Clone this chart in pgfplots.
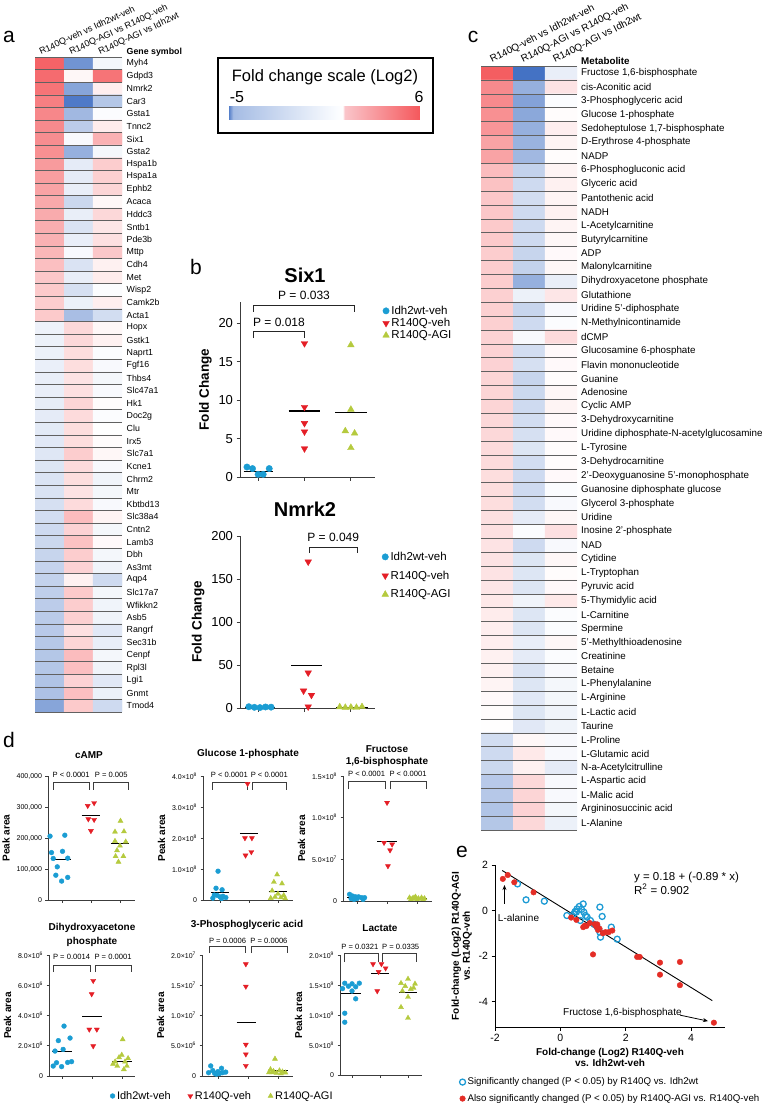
\documentclass[border=0pt]{standalone}
\usepackage{fontspec}
\setmainfont{Liberation Sans}
\usepackage{pgfplots}
\pgfplotsset{compat=1.18}
\usetikzlibrary{arrows.meta}
\definecolor{cblue}{RGB}{27,157,211}
\definecolor{cred}{RGB}{228,30,38}
\definecolor{cgreen}{RGB}{181,202,62}
\definecolor{axc}{RGB}{60,60,60}
\definecolor{ered}{RGB}{228,45,38}
\definecolor{eblue}{RGB}{30,155,212}
\tikzset{ptxt/.style={font=\fontsize{7.6}{9}\selectfont, inner sep=0pt}}
\pgfplotsset{
  colormap={fcbar}{rgb255(0cm)=(68,114,196); rgb255(0.3cm)=(165,188,228); rgb255(6.2cm)=(250,252,255); rgb255(6.6cm)=(255,255,255); rgb255(6.65cm)=(250,198,203); rgb255(11cm)=(245,88,92)},
  colormap={fc}{rgb255(0cm)=(68,114,196); rgb255(5cm)=(255,255,255); rgb255(11cm)=(244,88,92)},
  heat/.style={scale only axis, anchor=south west, enlargelimits=false, xmin=-0.5, xmax=2.5, y dir=reverse,
    colormap name=fc, point meta min=-5, point meta max=6, axis line style={draw=none}, xtick=\empty,
    tick style={draw=none}, major tick length=0pt, minor tick length=0pt, yticklabel pos=right,
    yticklabel style={anchor=west, inner sep=0pt}, axis on top, xminorgrids=true, yminorgrids=true,
    minor xtick={-0.5,0.5,1.5,2.5}, minor grid style={black!62, line width=0.55pt}},
  dot/.style={scale only axis, anchor=south west, axis lines=left, axis line style={-, draw=axc, line width=1pt},
    tick style={axc, line width=0.9pt}, tick align=outside, major tick length=3.5pt, xtick={1,2,3}, xticklabels={},
    clip=false, enlargelimits=false, /pgf/number format/assume math mode=true, legend cell align=left,
    legend image code/.code={\draw[##1] plot coordinates {(0pt,0pt)};},
    legend style={draw=none, fill=none, inner sep=0pt}},
  dd/.style={dot, axis line style={-, draw=axc, line width=0.8pt}, tick style={axc, line width=0.7pt},
    major tick length=2.5pt, yticklabel style={font=\fontsize{7}{8}\selectfont}, ylabel={Peak area},
    ylabel style={font=\bfseries\fontsize{10}{12}\selectfont}, scaled y ticks=false, ymin=0},
  mwt/.style={only marks, mark=*, color=cblue, mark size=#1},
  mveh/.style={only marks, mark=triangle*, color=cred, mark size=#1, mark options={rotate=180}},
  magi/.style={only marks, mark=triangle*, color=cgreen, mark size=#1},
  meanl/.style={black, line width=0.9pt},
  brk/.style={axc, line width=0.7pt},
}
\begin{document}
\begin{tikzpicture}
\path[use as bounding box] (0,0) rectangle (763pt,-1105pt);
% panel letters
\node[font=\fontsize{21}{24}\selectfont] at (9pt,-37pt) {a};
\node[font=\fontsize{21}{24}\selectfont] at (196pt,-267pt) {b};
\node[font=\fontsize{21}{24}\selectfont] at (473pt,-37pt) {c};
\node[font=\fontsize{21}{24}\selectfont] at (9pt,-740pt) {d};
\node[font=\fontsize{21}{24}\selectfont] at (462pt,-852pt) {e};
% ---------------- panel a headers
\node[rotate=25, anchor=base west, inner sep=0pt, font=\fontsize{9}{10}\selectfont] at (41pt,-55pt) {R140Q-veh vs Idh2wt-veh};
\node[rotate=25, anchor=base west, inner sep=0pt, font=\fontsize{9}{10}\selectfont] at (71pt,-55pt) {R140Q-AGI vs R140Q-veh};
\node[rotate=25, anchor=base west, inner sep=0pt, font=\fontsize{9}{10}\selectfont] at (100pt,-55pt) {R140Q-AGI vs Idh2wt};
\node[anchor=west, inner sep=0pt, font=\bfseries\fontsize{8.8}{10}\selectfont] at (126.5pt,-52pt) {Gene symbol};
\begin{axis}[heat, at={(35pt,-712pt)}, width=87pt, height=655pt, ymin=-0.5, ymax=51.5,
  minor ytick={-0.5,0.5,...,51.5}, ytick={0,...,51},
  yticklabels={Myh4,Gdpd3,Nmrk2,Car3,Gsta1,Tnnc2,Six1,Gsta2,Hspa1b,Hspa1a,Ephb2,Acaca,Hddc3,Sntb1,Pde3b,Mttp,Cdh4,Met,Wisp2,Camk2b,Acta1,Hopx,Gstk1,Naprt1,Fgf16,Thbs4,Slc47a1,Hk1,Doc2g,Clu,Irx5,Slc7a1,Kcne1,Chrm2,Mtr,Kbtbd13,Slc38a4,Cntn2,Lamb3,Dbh,As3mt,Aqp4,Slc17a7,Wfikkn2,Asb5,Rangrf,Sec31b,Cenpf,Rpl3l,Lgi1,Gnmt,Tmod4},
  yticklabel style={font=\fontsize{8.8}{10}\selectfont, xshift=4.5pt}]
\addplot[matrix plot*, mesh/cols=3, point meta=explicit] table[meta=c, row sep=\\] {
x y c\\
0 0 5.6\\ 1 0 -3.8\\ 2 0 -0.3\\
0 1 5.3\\ 1 1 0.3\\ 2 1 5.0\\
0 2 5.0\\ 1 2 -3.2\\ 2 2 0.6\\
0 3 4.6\\ 1 3 -4.7\\ 2 3 -2.0\\
0 4 4.3\\ 1 4 -2.5\\ 2 4 -0.1\\
0 5 4.2\\ 1 5 -1.8\\ 2 5 0.7\\
0 6 4.1\\ 1 6 -0.2\\ 2 6 2.8\\
0 7 4.0\\ 1 7 -2.8\\ 2 7 -0.3\\
0 8 3.6\\ 1 8 -0.7\\ 2 8 1.8\\
0 9 3.5\\ 1 9 -0.7\\ 2 9 1.7\\
0 10 3.3\\ 1 10 -0.6\\ 2 10 1.5\\
0 11 3.1\\ 1 11 -1.4\\ 2 11 0.3\\
0 12 3.0\\ 1 12 -0.6\\ 2 12 1.4\\
0 13 2.9\\ 1 13 -1.0\\ 2 13 0.9\\
0 14 2.8\\ 1 14 -0.6\\ 2 14 1.1\\
0 15 2.6\\ 1 15 -0.2\\ 2 15 2.0\\
0 16 2.3\\ 1 16 -1.0\\ 2 16 0.5\\
0 17 2.0\\ 1 17 -0.6\\ 2 17 0.7\\
0 18 1.9\\ 1 18 -1.1\\ 2 18 -0.1\\
0 19 1.8\\ 1 19 -0.5\\ 2 19 0.6\\
0 20 1.9\\ 1 20 -2.3\\ 2 20 -1.2\\
0 21 -0.45\\ 1 21 1.4\\ 2 21 0.3\\
0 22 -0.5\\ 1 22 1.4\\ 2 22 0.5\\
0 23 -0.5\\ 1 23 1.2\\ 2 23 -0.1\\
0 24 -0.55\\ 1 24 1.2\\ 2 24 -0.2\\
0 25 -0.6\\ 1 25 1.0\\ 2 25 -0.3\\
0 26 -0.6\\ 1 26 1.1\\ 2 26 -0.2\\
0 27 -0.65\\ 1 27 1.5\\ 2 27 0.1\\
0 28 -0.7\\ 1 28 1.3\\ 2 28 -0.1\\
0 29 -0.75\\ 1 29 1.2\\ 2 29 0.0\\
0 30 -0.8\\ 1 30 1.2\\ 2 30 0.1\\
0 31 -0.85\\ 1 31 1.8\\ 2 31 0.3\\
0 32 -0.9\\ 1 32 1.3\\ 2 32 -0.2\\
0 33 -0.95\\ 1 33 1.2\\ 2 33 -0.4\\
0 34 -1.0\\ 1 34 1.0\\ 2 34 -0.3\\
0 35 -1.1\\ 1 35 1.3\\ 2 35 -0.2\\
0 36 -1.2\\ 1 36 2.4\\ 2 36 0.4\\
0 37 -1.3\\ 1 37 1.6\\ 2 37 -0.3\\
0 38 -1.4\\ 1 38 2.2\\ 2 38 0.2\\
0 39 -1.5\\ 1 39 1.8\\ 2 39 -0.3\\
0 40 -1.55\\ 1 40 1.6\\ 2 40 -0.4\\
0 41 -1.6\\ 1 41 0.5\\ 2 41 -1.3\\
0 42 -1.7\\ 1 42 1.9\\ 2 42 -0.3\\
0 43 -1.8\\ 1 43 1.8\\ 2 43 -0.4\\
0 44 -1.85\\ 1 44 1.7\\ 2 44 -0.4\\
0 45 -1.9\\ 1 45 1.1\\ 2 45 -0.8\\
0 46 -1.95\\ 1 46 1.5\\ 2 46 -0.6\\
0 47 -2.0\\ 1 47 2.4\\ 2 47 -0.3\\
0 48 -2.0\\ 1 48 2.3\\ 2 48 -0.4\\
0 49 -2.1\\ 1 49 1.6\\ 2 49 -0.8\\
0 50 -2.2\\ 1 50 2.3\\ 2 50 -0.5\\
0 51 -3.2\\ 1 51 1.9\\ 2 51 -1.3\\
};
\end{axis}
% ---------------- colour scale box
\draw[line width=1.2pt] (218pt,-58pt) rectangle (433pt,-133pt);
\node[font=\fontsize{16.5}{19}\selectfont] at (325pt,-77pt) {Fold change scale (Log2)};
\node[font=\fontsize{16}{18}\selectfont] at (237pt,-97pt) {-5};
\node[font=\fontsize{16}{18}\selectfont] at (419pt,-97pt) {6};
\begin{axis}[at={(228pt,-120pt)}, anchor=south west, scale only axis, width=192pt, height=13pt, hide axis,
  colormap name=fcbar, point meta min=-5, point meta max=6, colorbar horizontal,
  colorbar style={at={(0,0)}, anchor=south west, xtick=\empty, axis line style={draw=none}, height=13pt}]
\addplot[draw=none] coordinates {(0,0)};
\end{axis}
% ---------------- panel c
\node[rotate=27, anchor=base west, inner sep=0pt, font=\fontsize{10}{11}\selectfont] at (492pt,-63pt) {R140Q-veh vs Idh2wt-veh};
\node[rotate=27, anchor=base west, inner sep=0pt, font=\fontsize{10}{11}\selectfont] at (523pt,-63pt) {R140Q-AGI vs R140Q-veh};
\node[rotate=27, anchor=base west, inner sep=0pt, font=\fontsize{10}{11}\selectfont] at (555pt,-63pt) {R140Q-AGI vs Idh2wt};
\node[anchor=west, inner sep=0pt, font=\bfseries\fontsize{9.8}{11}\selectfont] at (581pt,-61pt) {Metabolite};
\begin{axis}[heat, at={(481pt,-830pt)}, width=96pt, height=764pt, ymin=-0.5, ymax=54.5,
  minor ytick={-0.5,0.5,...,54.5}, ytick={0,...,54},
  yticklabels={{Fructose 1,6-bisphosphate},cis-Aconitic acid,3-Phosphoglyceric acid,Glucose 1-phosphate,{Sedoheptulose 1,7-bisphosphate},D-Erythrose 4-phosphate,NADP,6-Phosphogluconic acid,Glyceric acid,Pantothenic acid,NADH,L-Acetylcarnitine,Butyrylcarnitine,ADP,Malonylcarnitine,Dihydroxyacetone phosphate,Glutathione,Uridine 5'-diphosphate,N-Methylnicontinamide,dCMP,Glucosamine 6-phosphate,Flavin mononucleotide,Guanine,Adenosine,Cyclic AMP,3-Dehydroxycarnitine,Uridine diphosphate-N-acetylglucosamine,L-Tyrosine,3-Dehydrocarnitine,2'-Deoxyguanosine 5'-monophosphate,Guanosine diphosphate glucose,Glycerol 3-phosphate,Uridine,Inosine 2'-phosphate,NAD,Cytidine,L-Tryptophan,Pyruvic acid,5-Thymidylic acid,L-Carnitine,Spermine,5'-Methylthioadenosine,Creatinine,Betaine,L-Phenylalanine,L-Arginine,L-Lactic acid,Taurine,L-Proline,L-Glutamic acid,N-a-Acetylcitrulline,L-Aspartic acid,L-Malic acid,Argininosuccinic acid,L-Alanine},
  yticklabel style={font=\fontsize{9.8}{11}\selectfont, xshift=4pt}]
\addplot[matrix plot*, mesh/cols=3, point meta=explicit] table[meta=c, row sep=\\] {
x y c\\
0 0 5.8\\ 1 0 -5.0\\ 2 0 -0.6\\
0 1 4.2\\ 1 1 -2.8\\ 2 1 1.0\\
0 2 4.2\\ 1 2 -3.3\\ 2 2 -0.1\\
0 3 4.0\\ 1 3 -3.1\\ 2 3 0.1\\
0 4 3.8\\ 1 4 -2.8\\ 2 4 0.6\\
0 5 3.3\\ 1 5 -2.7\\ 2 5 0.4\\
0 6 3.3\\ 1 6 -2.5\\ 2 6 0.1\\
0 7 2.4\\ 1 7 -1.6\\ 2 7 0.4\\
0 8 2.2\\ 1 8 -1.3\\ 2 8 0.5\\
0 9 2.0\\ 1 9 -1.2\\ 2 9 0.4\\
0 10 2.0\\ 1 10 -1.3\\ 2 10 0.5\\
0 11 1.9\\ 1 11 -1.3\\ 2 11 0.4\\
0 12 1.9\\ 1 12 -1.3\\ 2 12 0.3\\
0 13 1.8\\ 1 13 -1.5\\ 2 13 0.2\\
0 14 1.8\\ 1 14 -1.6\\ 2 14 0.3\\
0 15 1.8\\ 1 15 -2.8\\ 2 15 -0.6\\
0 16 1.7\\ 1 16 -0.5\\ 2 16 0.9\\
0 17 1.7\\ 1 17 -1.5\\ 2 17 -0.2\\
0 18 1.7\\ 1 18 -1.3\\ 2 18 -0.1\\
0 19 1.6\\ 1 19 -0.2\\ 2 19 1.3\\
0 20 1.6\\ 1 20 -1.2\\ 2 20 0.2\\
0 21 1.6\\ 1 21 -1.1\\ 2 21 0.2\\
0 22 1.5\\ 1 22 -1.5\\ 2 22 0.1\\
0 23 1.5\\ 1 23 -1.4\\ 2 23 0.3\\
0 24 1.5\\ 1 24 -1.3\\ 2 24 0.4\\
0 25 1.4\\ 1 25 -1.2\\ 2 25 0.2\\
0 26 1.4\\ 1 26 -1.1\\ 2 26 0.2\\
0 27 1.3\\ 1 27 -0.9\\ 2 27 0.1\\
0 28 1.3\\ 1 28 -1.2\\ 2 28 0.1\\
0 29 1.2\\ 1 29 -1.3\\ 2 29 0.2\\
0 30 1.2\\ 1 30 -1.3\\ 2 30 -0.1\\
0 31 1.2\\ 1 31 -1.2\\ 2 31 -0.2\\
0 32 1.1\\ 1 32 -0.7\\ 2 32 0.3\\
0 33 1.1\\ 1 33 -0.1\\ 2 33 1.1\\
0 34 1.0\\ 1 34 -1.3\\ 2 34 -0.2\\
0 35 1.0\\ 1 35 -0.9\\ 2 35 0.3\\
0 36 1.0\\ 1 36 -0.9\\ 2 36 0.1\\
0 37 0.9\\ 1 37 -0.9\\ 2 37 0.2\\
0 38 0.8\\ 1 38 -0.4\\ 2 38 0.8\\
0 39 0.7\\ 1 39 -0.9\\ 2 39 -0.1\\
0 40 0.6\\ 1 40 -0.9\\ 2 40 -0.1\\
0 41 0.6\\ 1 41 -0.6\\ 2 41 0.3\\
0 42 0.5\\ 1 42 -0.7\\ 2 42 -0.1\\
0 43 0.5\\ 1 43 -1.0\\ 2 43 -0.2\\
0 44 0.4\\ 1 44 -0.9\\ 2 44 -0.3\\
0 45 0.2\\ 1 45 -0.8\\ 2 45 -0.3\\
0 46 0.1\\ 1 46 -0.9\\ 2 46 -0.4\\
0 47 0.05\\ 1 47 -0.8\\ 2 47 -0.4\\
0 48 -1.2\\ 1 48 0.3\\ 2 48 -0.2\\
0 49 -1.3\\ 1 49 0.8\\ 2 49 -0.2\\
0 50 -1.4\\ 1 50 0.5\\ 2 50 -0.7\\
0 51 -1.9\\ 1 51 1.4\\ 2 51 -0.2\\
0 52 -1.95\\ 1 52 1.5\\ 2 52 -0.2\\
0 53 -2.1\\ 1 53 1.6\\ 2 53 -0.3\\
0 54 -2.0\\ 1 54 1.4\\ 2 54 -0.5\\
};
\end{axis}
% ---------------- panel b
\node[font=\bfseries\fontsize{20}{23}\selectfont] at (305pt,-275pt) {Six1};
\begin{axis}[dot, at={(240pt,-477pt)}, width=135pt, height=175pt, xmin=0.61, xmax=3.52, ymin=0, ymax=22.8,
  ytick={0,5,10,15,20}, yticklabel style={font=\fontsize{13}{15}\selectfont},
  ylabel={Fold Change}, ylabel style={font=\bfseries\fontsize{13.5}{16}\selectfont},
  legend style={at={(axis description cs:1.056,0.99)}, anchor=north west, font=\fontsize{11.5}{13}\selectfont, row sep=-1.5pt}]
\addplot[mwt=3.2pt] coordinates {(0.76,1.3) (0.88,1.1) (1.0,0.35) (1.11,0.35) (1.24,1.1)};
\addplot[mveh=3.8pt] coordinates {(2,17.4) (2,9.1) (2,7.0) (2,5.9) (2,3.7)};
\addplot[magi=3.8pt] coordinates {(3,17.2) (3,8.8) (2.88,6.0) (3.08,5.7) (3,3.8)};
\legend{Idh2wt-veh,R140Q-veh,R140Q-AGI}
\addplot[black, line width=1.1pt] coordinates {(0.69,0.74) (1.32,0.74)};
\addplot[black, line width=1.1pt] coordinates {(1.66,8.6) (2.34,8.6)};
\addplot[black, line width=1.1pt] coordinates {(2.66,8.35) (3.34,8.35)};
\addplot[black!85, line width=1pt] coordinates {(0.9,18.1) (0.9,18.9) (2.0,18.9) (2.0,18.1)};
\addplot[black!85, line width=1pt] coordinates {(0.9,21.5) (0.9,22.4) (3.08,22.4) (3.08,21.5)};
\node[font=\fontsize{12}{14}\selectfont] at (axis cs:1.45,20.1) {P = 0.018};
\node[font=\fontsize{12}{14}\selectfont] at (axis cs:1.99,23.6) {P = 0.033};
\end{axis}
\node[font=\bfseries\fontsize{20}{23}\selectfont] at (305pt,-509pt) {Nmrk2};
\begin{axis}[dot, at={(240pt,-708pt)}, width=135pt, height=172pt, xmin=0.61, xmax=3.52, ymin=0, ymax=200,
  ytick={0,50,100,150,200}, yticklabel style={font=\fontsize{13}{15}\selectfont},
  ylabel={Fold Change}, ylabel style={font=\bfseries\fontsize{13.5}{16}\selectfont},
  legend style={at={(axis description cs:1.05,0.92)}, anchor=north west, font=\fontsize{11.5}{13}\selectfont, row sep=5pt}]
\addplot[mwt=3.2pt] coordinates {(0.8,1.5) (0.92,0.8) (1.04,0.5) (1.16,1.2) (1.28,1.0)};
\addplot[mveh=3.8pt] coordinates {(2.08,170) (2.08,41) (1.98,20) (2.15,15) (2.08,1.5)};
\addplot[magi=3.8pt] coordinates {(2.76,1.2) (2.88,0.6) (3.0,0.8) (3.12,0.5) (3.24,1.4)};
\legend{Idh2wt-veh,R140Q-veh,R140Q-AGI}
\addplot[black, line width=1.1pt] coordinates {(0.72,1.0) (1.36,1.0)};
\addplot[black, line width=1.1pt] coordinates {(1.72,49.5) (2.38,49.5)};
\addplot[black, line width=1.1pt] coordinates {(2.68,0.9) (3.36,0.9)};
\addplot[black!85, line width=1pt] coordinates {(2.1,180) (2.1,187) (3.15,187) (3.15,180)};
\node[font=\fontsize{12}{14}\selectfont] at (axis cs:2.62,199) {P = 0.049};
\end{axis}
% ---------------- panel d, top row
\node[font=\bfseries\fontsize{10}{12}\selectfont] at (89pt,-755pt) {cAMP};
\node[font=\bfseries\fontsize{10}{12}\selectfont] at (248pt,-754pt) {Glucose 1-phosphate};
\node[font=\bfseries\fontsize{10}{12}\selectfont] at (387pt,-749pt) {Fructose};
\node[font=\bfseries\fontsize{10}{12}\selectfont] at (387pt,-762pt) {1,6-bisphosphate};
\begin{axis}[dd, at={(48pt,-900pt)}, width=87pt, height=124pt, xmin=0.52, xmax=3.52, ymax=400000,
  ytick={0,100000,200000,300000,400000}, yticklabels={0,{100,000},{200,000},{300,000},{400,000}}]
\addplot[mwt=2.4pt] coordinates {(0.59,206000) (1.1,209000) (0.64,153000) (1.02,157000) (0.7,134000) (1.2,135000) (0.84,107000) (0.79,80000) (1.2,73000) (0.99,61000)};
\addplot[mveh=2.9pt] coordinates {(1.89,304000) (2.11,313000) (1.91,261000) (2.11,259000) (2.0,223000)};
\addplot[magi=2.9pt] coordinates {(3.02,255000) (2.83,220000) (3.14,221000) (2.83,190000) (3.2,188000) (3.0,175000) (2.9,160000) (2.85,141000) (3.12,141000) (2.95,123000)};
\addplot[meanl] coordinates {(0.68,130000) (1.32,130000)};
\addplot[meanl] coordinates {(1.68,272000) (2.32,272000)};
\addplot[meanl] coordinates {(2.68,181000) (3.32,181000)};
\addplot[brk] coordinates {(0.72,355000) (0.72,380000) (1.93,380000) (1.93,355000)};
\addplot[brk] coordinates {(2.1,355000) (2.1,380000) (3.3,380000) (3.3,355000)};
\node[ptxt] at (axis cs:1.32,405000) {P < 0.0001};
\node[ptxt] at (axis cs:2.7,405000) {P = 0.005};
\end{axis}
\begin{axis}[dd, at={(203pt,-900pt)}, width=90pt, height=124pt, xmin=0.41, xmax=3.52, ymax=4,
  ytick={0,1,2,3,4}, yticklabels={0,{1.0×10\textsuperscript{8}},{2.0×10\textsuperscript{8}},{3.0×10\textsuperscript{8}},{4.0×10\textsuperscript{8}}}]
\addplot[mwt=2.4pt] coordinates {(0.93,0.93) (0.86,0.38) (1.07,0.33) (0.8,0.16) (0.9,0.15) (1.1,0.12) (1.0,0.1) (1.2,0.08) (0.75,0.06) (1.05,0.05)};
\addplot[mveh=2.9pt] coordinates {(1.95,3.75) (1.86,2.0) (2.1,2.0) (1.88,1.44) (2.08,1.55)};
\addplot[magi=2.9pt] coordinates {(2.97,0.82) (2.86,0.58) (3.14,0.53) (2.8,0.3) (3.0,0.2) (3.2,0.15) (2.9,0.1) (3.1,0.08) (2.75,0.06) (3.25,0.05)};
\addplot[meanl] coordinates {(0.68,0.24) (1.32,0.24)};
\addplot[meanl] coordinates {(1.68,2.15) (2.32,2.15)};
\addplot[meanl] coordinates {(2.68,0.29) (3.32,0.29)};
\addplot[brk] coordinates {(0.72,3.55) (0.72,3.81) (1.93,3.81) (1.93,3.55)};
\addplot[brk] coordinates {(2.1,3.55) (2.1,3.81) (3.3,3.81) (3.3,3.55)};
\node[ptxt] at (axis cs:1.32,4.05) {P < 0.0001};
\node[ptxt] at (axis cs:2.7,4.05) {P < 0.0001};
\end{axis}
\begin{axis}[dd, at={(343pt,-901pt)}, width=89pt, height=125pt, xmin=0.53, xmax=3.5, ymax=1.5,
  ytick={0,0.5,1,1.5}, yticklabels={0,{5.0×10\textsuperscript{7}},{1.0×10\textsuperscript{8}},{1.5×10\textsuperscript{8}}}]
\addplot[mwt=2.4pt] coordinates {(0.75,0.08) (0.85,0.06) (0.95,0.05) (1.05,0.05) (1.15,0.04) (1.25,0.04) (0.8,0.03) (1.0,0.03) (1.2,0.02) (0.9,0.02)};
\addplot[mveh=2.9pt] coordinates {(2.0,1.18) (1.9,0.7) (2.17,0.68) (2.1,0.61) (2.03,0.42)};
\addplot[magi=2.9pt] coordinates {(2.75,0.04) (2.85,0.03) (2.95,0.05) (3.05,0.03) (3.15,0.04) (3.25,0.03) (2.8,0.02) (3.0,0.02) (3.2,0.02) (2.9,0.04)};
\addplot[meanl] coordinates {(0.68,0.04) (1.32,0.04)};
\addplot[meanl] coordinates {(1.68,0.72) (2.32,0.72)};
\addplot[meanl] coordinates {(2.68,0.03) (3.32,0.03)};
\addplot[brk] coordinates {(0.72,1.34) (0.72,1.43) (1.93,1.43) (1.93,1.34)};
\addplot[brk] coordinates {(2.1,1.34) (2.1,1.43) (3.3,1.43) (3.3,1.34)};
\node[ptxt] at (axis cs:1.32,1.52) {P < 0.0001};
\node[ptxt] at (axis cs:2.7,1.52) {P < 0.0001};
\end{axis}
% ---------------- panel d, bottom row
\node[font=\bfseries\fontsize{10}{12}\selectfont] at (92pt,-928pt) {Dihydroxyacetone};
\node[font=\bfseries\fontsize{10}{12}\selectfont] at (92pt,-942pt) {phosphate};
\node[font=\bfseries\fontsize{10}{12}\selectfont] at (247pt,-925pt) {3-Phosphoglyceric acid};
\node[font=\bfseries\fontsize{10}{12}\selectfont] at (380pt,-928pt) {Lactate};
\begin{axis}[dd, at={(49pt,-1076pt)}, width=86pt, height=121pt, xmin=0.57, xmax=3.43, ymax=8,
  ytick={0,2,4,6,8}, yticklabels={0,{2.0×10\textsuperscript{6}},{4.0×10\textsuperscript{6}},{6.0×10\textsuperscript{6}},{8.0×10\textsuperscript{6}}}]
\addplot[mwt=2.4pt] coordinates {(1.07,3.3) (0.88,2.34) (1.27,2.51) (1.04,1.76) (0.77,1.65) (1.19,0.9) (0.82,0.88) (0.99,0.62) (1.32,0.95) (0.71,0.66)};
\addplot[mveh=2.9pt] coordinates {(2.04,6.3) (1.99,5.42) (1.91,3.08) (2.16,3.08) (2.04,1.98)};
\addplot[magi=2.9pt] coordinates {(3.02,2.42) (2.99,1.39) (2.77,0.95) (3.1,0.95) (2.84,0.66) (3.16,0.66) (3.06,0.44) (2.9,1.23) (2.7,0.8) (3.2,1.17)};
\addplot[meanl] coordinates {(0.68,1.61) (1.32,1.61)};
\addplot[meanl] coordinates {(1.68,3.96) (2.32,3.96)};
\addplot[meanl] coordinates {(2.68,0.99) (3.32,0.99)};
\addplot[brk] coordinates {(0.72,6.87) (0.72,7.33) (1.93,7.33) (1.93,6.87)};
\addplot[brk] coordinates {(2.1,6.87) (2.1,7.33) (3.3,7.33) (3.3,6.87)};
\node[ptxt] at (axis cs:1.32,7.85) {P = 0.0014};
\node[ptxt] at (axis cs:2.7,7.85) {P = 0.0001};
\end{axis}
\begin{axis}[dd, at={(202pt,-1076pt)}, width=91pt, height=121pt, xmin=0.47, xmax=3.5, ymax=20,
  ytick={0,5,10,15,20}, yticklabels={0,{5.0×10\textsuperscript{6}},{1.0×10\textsuperscript{7}},{1.5×10\textsuperscript{7}},{2.0×10\textsuperscript{7}}},
  legend columns=3,
  legend style={at={(axis description cs:-1.011,-0.165)}, anchor=west, font=\fontsize{11}{13}\selectfont,
    /tikz/every even column/.append style={column sep=15pt}}]
\addplot[mwt=2.4pt] coordinates {(0.76,1.67) (1.12,1.28) (0.83,0.9) (1.0,0.72) (1.16,0.55) (0.69,0.55) (0.89,0.45) (1.05,0.4) (1.26,0.65) (0.95,0.3)};
\addplot[mveh=2.9pt] coordinates {(1.93,18.5) (1.93,14.8) (1.93,5.2) (1.93,3.6) (1.93,1.7)};
\addplot[magi=2.9pt] coordinates {(2.9,2.83) (2.75,1.1) (3.05,0.9) (2.85,0.8) (3.15,0.7) (2.7,0.6) (3.25,0.55) (2.95,0.5) (3.1,0.4) (2.8,0.6)};
\legend{Idh2wt-veh,R140Q-veh,R140Q-AGI}
\addplot[meanl] coordinates {(0.68,0.83) (1.32,0.83)};
\addplot[meanl] coordinates {(1.62,8.8) (2.26,8.8)};
\addplot[meanl] coordinates {(2.68,0.9) (3.32,0.9)};
\addplot[brk] coordinates {(0.72,20.3) (0.72,21.5) (1.93,21.5) (1.93,20.3)};
\addplot[brk] coordinates {(2.1,20.3) (2.1,21.5) (3.3,21.5) (3.3,20.3)};
\node[ptxt] at (axis cs:1.32,22.4) {P = 0.0006};
\node[ptxt] at (axis cs:2.7,22.4) {P = 0.0006};
\end{axis}
\begin{axis}[dd, at={(340pt,-1075pt)}, width=82pt, height=120pt, xmin=0.57, xmax=3.5, ymax=2,
  ytick={0,0.5,1,1.5,2}, yticklabels={0,{5.0×10\textsuperscript{8}},{1.0×10\textsuperscript{9}},{1.5×10\textsuperscript{9}},{2.0×10\textsuperscript{9}}}]
\addplot[mwt=2.4pt] coordinates {(0.74,1.53) (1.0,1.52) (1.26,1.53) (0.87,1.48) (1.13,1.47) (0.66,1.44) (1.13,1.27) (0.74,1.03) (0.74,0.88) (1.0,1.4)};
\addplot[mveh=2.9pt] coordinates {(1.75,1.85) (2.05,1.85) (2.2,1.78) (1.95,1.72) (1.9,1.4)};
\addplot[magi=2.9pt] coordinates {(3.0,1.6) (2.75,1.53) (3.25,1.52) (2.9,1.48) (3.1,1.43) (2.8,1.4) (3.0,1.3) (2.75,1.13) (3.0,0.95) (3.2,1.45)};
\addplot[meanl] coordinates {(0.6,1.36) (1.32,1.36)};
\addplot[meanl] coordinates {(1.68,1.70) (2.32,1.70)};
\addplot[meanl] coordinates {(2.68,1.37) (3.32,1.37)};
\addplot[brk] coordinates {(0.72,1.88) (0.72,2.03) (1.93,2.03) (1.93,1.88)};
\addplot[brk] coordinates {(2.1,1.88) (2.1,2.03) (3.3,2.03) (3.3,1.88)};
\node[ptxt] at (axis cs:1.28,2.14) {P = 0.0321};
\node[ptxt] at (axis cs:2.74,2.14) {P = 0.0335};
\end{axis}
% ---------------- panel e
\begin{axis}[at={(495pt,-1027pt)}, anchor=south west, scale only axis, width=230pt, height=162pt,
  xmin=-2, xmax=5.04, ymin=-5.12, ymax=2, axis lines=left, axis line style={-, black, line width=0.9pt},
  tick style={black, line width=0.8pt}, tick align=outside, major tick length=3.5pt,
  xtick={-2,0,2,4}, ytick={-4,-2,0,2}, tick label style={font=\fontsize{10.5}{12}\selectfont},
  /pgf/number format/assume math mode=true, clip=false,
  xlabel={Fold-change (Log2) R140Q-veh\\vs. Idh2wt-veh}, xlabel style={font=\bfseries\fontsize{10}{11}\selectfont, align=center},
  ylabel={Fold-change (Log2) R140Q-AGI\\vs. R140Q-veh}, ylabel style={font=\bfseries\fontsize{10}{11}\selectfont, align=center},
  legend cell align=left, legend image code/.code={\draw[#1] plot coordinates {(0pt,0pt)};},
  legend style={at={(axis description cs:-0.155,-0.30)}, anchor=north west, draw=none, fill=none, inner sep=0pt,
    font=\fontsize{9.7}{11}\selectfont, row sep=4pt}]
\addplot[black, line width=0.9pt, forget plot] coordinates {(-1.78,1.76) (4.65,-3.96)};
\addplot[only marks, mark=o, mark size=3pt, eblue, line width=1.3pt] coordinates {(-1.31,1.17) (-1.05,0.47) (-0.49,0.41) (0.2,-0.22) (0.41,-0.15) (0.45,-0.05) (0.51,0.07) (0.58,0.18) (0.65,0.05) (0.7,0.29) (0.49,-0.07) (0.72,-0.07) (0.77,-0.22) (0.82,-0.29) (0.61,-0.44) (0.92,-0.44) (1.04,-0.61) (1.13,-0.73) (1.21,-0.95) (1.23,-1.17) (1.21,0.15) (1.28,-0.26) (1.56,-0.73) (1.74,-1.26)};
\addplot[only marks, mark=*, mark size=2.8pt, ered] coordinates {(-1.76,1.39) (-1.61,1.56) (-1.41,1.24) (-0.82,0.80) (0.33,-0.31) (0.49,-0.41) (0.7,-0.73) (0.75,-0.66) (0.8,-0.68) (0.9,-0.55) (1.05,-0.6) (1.1,-0.7) (1.13,-0.61) (1.15,-0.85) (1.2,-0.8) (1.3,-1.0) (1.38,-0.95) (1.48,-0.95) (1.59,-0.88) (1.0,-1.93) (2.35,-2.04) (2.43,-2.04) (3.05,-2.29) (3.05,-2.82) (3.66,-2.26) (3.66,-3.28) (4.7,-4.93)};
\legend{Significantly changed (P < 0.05) by R140Q vs. Idh2wt, Also significantly changed (P < 0.05) by R140Q-AGI vs. R140Q-veh}
\node[anchor=west, align=left, font=\fontsize{11.5}{13.5}\selectfont] at (axis cs:2.15,1.2) {y = 0.18 + (-0.89 * x)\\R\textsuperscript{2} = 0.902};
\node[font=\fontsize{10}{12}\selectfont] at (axis cs:-1.28,-0.32) {L-alanine};
\draw[-{Stealth[length=5pt,width=4pt]}, line width=0.8pt] (axis cs:-1.71,0.3) -- (axis cs:-1.71,1.12);
\node[font=\fontsize{10}{12}\selectfont] at (axis cs:1.9,-4.5) {Fructose 1,6-bisphosphate};
\draw[-{Stealth[length=5pt,width=4pt]}, line width=0.8pt] (axis cs:3.67,-4.6) -- (axis cs:4.52,-4.86);
\end{axis}
\end{tikzpicture}
\end{document}
